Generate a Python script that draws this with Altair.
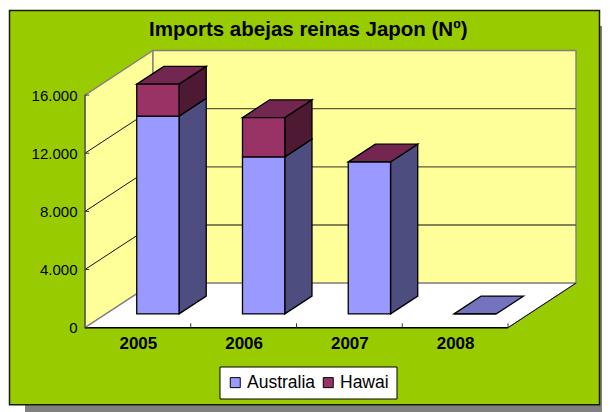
import altair as alt
import pandas as pd

years = ["2005", "2006", "2007", "2008"]
australia = [13600, 10800, 10450, 0]
hawai = [2200, 2700, 0, None]
y_ticks = [0, 4000, 8000, 12000, 16000]
series = ["Australia", "Hawai"]
front_colors = ["#9999FF", "#993366"]
side_colors = ["#4D4D80", "#4D1933"]
top_colors = ["#7373BF", "#732650"]

# oblique projection of the depth axis, in data units
DX, DY = 0.643, 3064
Z0, Z1 = 0.31, 0.71
HALF = 0.2
NCAT = len(years)
XDOM = [-0.728, 4.889]
YDOM = [-5798, 21988]
W, H = 594, 404

xs = alt.Scale(domain=XDOM, nice=False, zero=False)
ys = alt.Scale(domain=YDOM, nice=False, zero=False)

segments, sides, tops = [], [], []
for i, yr in enumerate(years):
    base = 0
    c = i + 0.49
    stack = [(0, australia[i]), (1, hawai[i])]
    last = None
    for s, v in stack:
        if v is None:
            continue
        t = base + v
        fx0, fx1 = c - HALF + DX * Z0, c + HALF + DX * Z0
        segments.append(dict(year=yr, series=series[s], x=fx0, x2=fx1,
                             y=base + DY * Z0, y2=t + DY * Z0))
        if v > 0:
            for xx, zz in ((fx1, Z0), (fx1 + DX * (Z1 - Z0), Z1)):
                sides.append(dict(id=f"{yr}{s}", fill=side_colors[s], x=xx,
                                  y=base + DY * zz, y2=t + DY * zz))
        last = (s, t)
        base = t
    s, t = last
    for zz in (Z0, Z1):
        tops.append(dict(id=yr, fill=top_colors[s],
                         x=c - HALF + DX * zz, x2=c + HALF + DX * zz,
                         y=t + DY * zz))
segments = pd.DataFrame(segments)
sides = pd.DataFrame(sides)
tops = pd.DataFrame(tops)

top_v = y_ticks[-1]
walls_v = pd.DataFrame([
    dict(id="left", fill="#FFFF99", x=0, y=0, y2=top_v),
    dict(id="left", fill="#FFFF99", x=DX, y=DY, y2=top_v + DY),
    dict(id="back", fill="#FFFF99", x=DX, y=DY, y2=top_v + DY),
    dict(id="back", fill="#FFFF99", x=NCAT + DX, y=DY, y2=top_v + DY),
])
floor = pd.DataFrame([
    dict(id="floor", fill="#FFFFFF", x=0, x2=NCAT, y=0),
    dict(id="floor", fill="#FFFFFF", x=DX, x2=NCAT + DX, y=DY),
])

lines = []
for v in y_ticks[1:-1]:
    lines += [dict(id=f"l{v}", c="#111111", w=1, x=0, y=v),
              dict(id=f"l{v}", c="#111111", w=1, x=DX, y=v + DY),
              dict(id=f"b{v}", c="#5A5A40", w=1.3, x=DX, y=v + DY),
              dict(id=f"b{v}", c="#5A5A40", w=1.3, x=NCAT + DX, y=v + DY)]
lines += [dict(id="right", c="#111111", w=1, x=NCAT, y=0),
          dict(id="right", c="#111111", w=1, x=NCAT + DX, y=DY),
          dict(id="base", c="#000000", w=1.6, x=0, y=0),
          dict(id="base", c="#000000", w=1.6, x=NCAT, y=0),
          dict(id="vert", c="#555555", w=1.4, x=0, y=0),
          dict(id="vert", c="#555555", w=1.4, x=0, y=top_v)]
for k in range(1, NCAT + 1):
    lines += [dict(id=f"t{k}", c="#333333", w=1, x=k, y=0),
              dict(id=f"t{k}", c="#333333", w=1, x=k, y=300)]
for v in y_ticks:
    lines += [dict(id=f"y{v}", c="#333333", w=1, x=0, y=v),
              dict(id=f"y{v}", c="#333333", w=1, x=0.04, y=v)]
lines = pd.DataFrame(lines)

one = pd.DataFrame({"a": [0]})


def box(x, x2, y, y2, **kw):
    return alt.Chart(one).mark_rect(**kw).encode(
        x=alt.value(x), x2=alt.value(x2), y=alt.value(y), y2=alt.value(y2))


shadow = box(17, 594, 18, 404, fill="#808080")
frame = box(1.5, 591.5, 2.5, 396.7, fill="#99CC00", stroke="#1A1A00", strokeWidth=1.5)

y_axis = alt.Axis(values=y_ticks, offset=-77, grid=False, domain=False, ticks=False,
                  labelPadding=8, labelFont="Liberation Sans", labelFontSize=15,
                  labelColor="#000000", title=None, zindex=1,
                  labelExpr="replace(format(datum.value, ','), ',', '.')")
x_axis = alt.Axis(values=[i + 0.5 for i in range(NCAT)], offset=-84.3, grid=False,
                  domain=False, ticks=False, labelPadding=8, labelFont="Liberation Sans",
                  labelFontSize=17, labelFontWeight="bold", labelColor="#000000",
                  labelAngle=0, title=None, zindex=1,
                  labelExpr="toString(2005 + floor(datum.value))")

axes_layer = alt.Chart(walls_v).mark_point(opacity=0).encode(
    x=alt.X("x:Q", scale=xs, axis=x_axis),
    y=alt.Y("y:Q", scale=ys, axis=y_axis),
)

wall_layer = alt.Chart(walls_v).mark_area(stroke="#808080", strokeWidth=1.4).encode(
    x=alt.X("x:Q", scale=xs),
    y=alt.Y("y:Q", scale=ys, stack=None),
    y2="y2:Q",
    fill=alt.Fill("fill:N", scale=None),
    detail="id:N",
)
floor_layer = alt.Chart(floor).mark_area(orient="horizontal", stroke="#808080", strokeWidth=1.2).encode(
    y=alt.Y("y:Q", scale=ys),
    x=alt.X("x:Q", scale=xs, stack=None),
    x2="x2:Q",
    fill=alt.Fill("fill:N", scale=None),
    detail="id:N",
)
line_layer = alt.Chart(lines).mark_line().encode(
    x=alt.X("x:Q", scale=xs),
    y=alt.Y("y:Q", scale=ys),
    color=alt.Color("c:N", scale=None),
    strokeWidth=alt.StrokeWidth("w:Q", scale=None),
    detail="id:N",
)
side_layer = alt.Chart(sides).mark_area(stroke="#000000", strokeWidth=1.3).encode(
    x=alt.X("x:Q", scale=xs),
    y=alt.Y("y:Q", scale=ys, stack=None),
    y2="y2:Q",
    fill=alt.Fill("fill:N", scale=None),
    detail="id:N",
)
top_layer = alt.Chart(tops).mark_area(orient="horizontal", stroke="#000000", strokeWidth=1.3).encode(
    y=alt.Y("y:Q", scale=ys),
    x=alt.X("x:Q", scale=xs, stack=None),
    x2="x2:Q",
    fill=alt.Fill("fill:N", scale=None),
    detail="id:N",
)
front_layer = alt.Chart(segments).mark_rect(stroke="#000000", strokeWidth=1.3).encode(
    x=alt.X("x:Q", scale=xs),
    x2="x2:Q",
    y=alt.Y("y:Q", scale=ys),
    y2="y2:Q",
    color=alt.Color("series:N", scale=alt.Scale(domain=series, range=front_colors),
                    legend=alt.Legend(orient="none", legendX=211.5, legendY=358.5,
                                      direction="horizontal", title=None,
                                      fillColor="#FFFFFF", strokeColor="#000000",
                                      padding=7, labelFont="Liberation Sans",
                                      labelFontSize=17.5, labelColor="#000000",
                                      symbolType="square", symbolSize=100,
                                      symbolStrokeColor="#000000", symbolStrokeWidth=1,
                                      symbolOpacity=1, columnPadding=4, labelOffset=3)),
)

chart = alt.layer(
    shadow, frame, axes_layer, wall_layer, floor_layer, line_layer,
    side_layer, top_layer, front_layer,
).resolve_scale(fill="independent", stroke="independent").properties(
    width=W, height=H, padding=0, background="#FFFFFF",
    autosize=alt.AutoSizeParams(type="none"),
    title=alt.TitleParams("Imports abejas reinas Japon (Nº)", font="Liberation Sans",
                          fontSize=20.5, fontWeight="bold", color="#000000",
                          anchor="start", offset=-32, dx=141),
).configure_view(stroke=None)

chart.save("out.html", embed_options={"renderer": "svg", "actions": False})
